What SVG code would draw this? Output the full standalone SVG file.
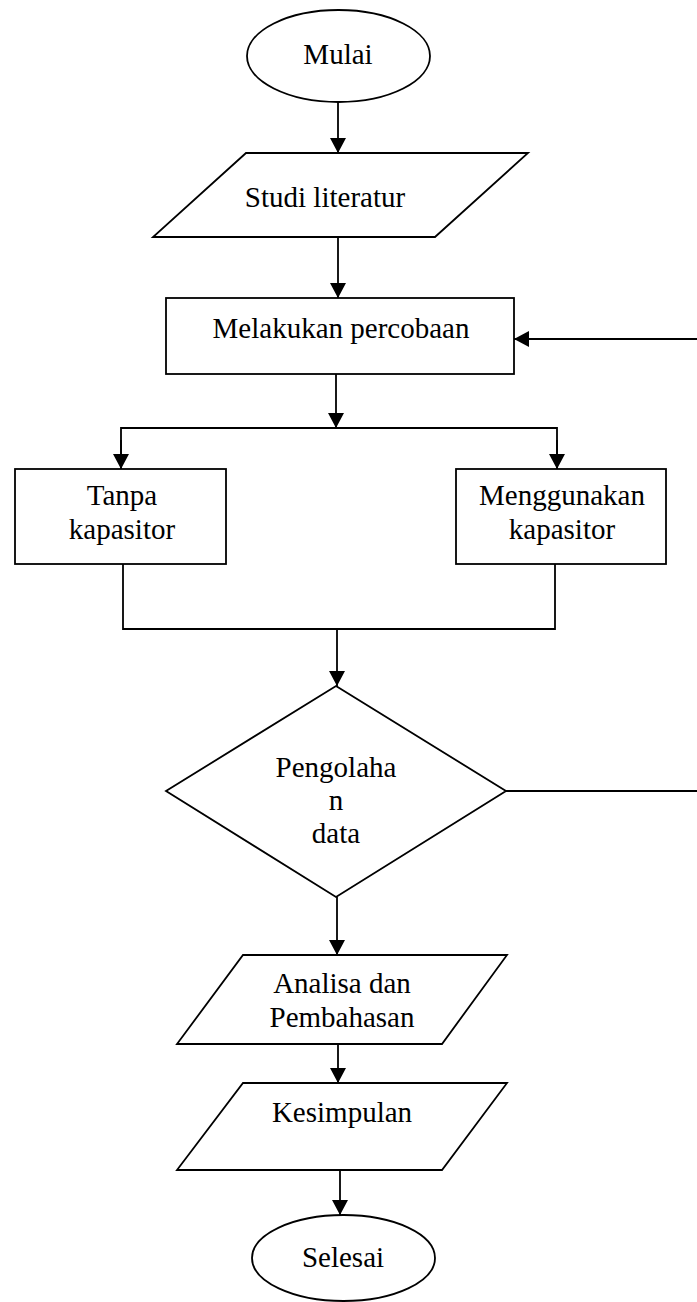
<svg xmlns="http://www.w3.org/2000/svg" width="697" height="1302" viewBox="0 0 697 1302">
<style>
.s{fill:#fff;stroke:#000;stroke-width:1.8}
.c{fill:none;stroke:#000;stroke-width:1.8}
.t{font-family:"Liberation Serif","Times New Roman",serif;font-size:29px;fill:#000;text-anchor:middle}
</style>
<defs>
<marker id="a" markerUnits="userSpaceOnUse" markerWidth="15" markerHeight="16" viewBox="0 0 15 16" refX="15" refY="8" orient="auto">
<path d="M0,0 L15,8 L0,16 Z" fill="#000"/>
</marker>
</defs>
<rect width="697" height="1302" fill="#fff"/>
<g id="connectors">
<line class="c" x1="338" y1="102" x2="338" y2="153" marker-end="url(#a)"/>
<line class="c" x1="338" y1="237" x2="338" y2="298" marker-end="url(#a)"/>
<line class="c" x1="697" y1="339" x2="514" y2="339" marker-end="url(#a)"/>
<line class="c" x1="336" y1="374" x2="336" y2="428" marker-end="url(#a)"/>
<polyline class="c" points="121,469 121,428 557,428 557,469"/>
<line class="c" x1="121" y1="440" x2="121" y2="469" marker-end="url(#a)"/>
<line class="c" x1="557" y1="440" x2="557" y2="469" marker-end="url(#a)"/>
<polyline class="c" points="123,564 123,629 555,629 555,564"/>
<line class="c" x1="337" y1="629" x2="337" y2="686" marker-end="url(#a)"/>
<line class="c" x1="506" y1="791" x2="697" y2="791"/>
<line class="c" x1="337" y1="897" x2="337" y2="955" marker-end="url(#a)"/>
<line class="c" x1="338" y1="1044" x2="338" y2="1083" marker-end="url(#a)"/>
<line class="c" x1="340" y1="1170" x2="340" y2="1215" marker-end="url(#a)"/>
</g>
<g id="mulai">
<ellipse class="s" cx="338.5" cy="56" rx="91.5" ry="46"/>
<text class="t" x="338" y="64">Mulai</text>
</g>
<g id="studi">
<polygon class="s" points="246,153 528,153 435,237 153,237"/>
<text class="t" x="325" y="207">Studi literatur</text>
</g>
<g id="percobaan">
<rect class="s" x="166" y="298" width="348" height="76"/>
<text class="t" x="341" y="338">Melakukan percobaan</text>
</g>
<g id="tanpa">
<rect class="s" x="15" y="469" width="211" height="95"/>
<text class="t" x="122" y="505">Tanpa</text>
<text class="t" x="122" y="539">kapasitor</text>
</g>
<g id="menggunakan">
<rect class="s" x="456" y="469" width="210" height="95"/>
<text class="t" x="562" y="505">Menggunakan</text>
<text class="t" x="562" y="539">kapasitor</text>
</g>
<g id="pengolahan">
<polygon class="s" points="336,686 506,791 336,897 166,791"/>
<text class="t" x="336" y="777">Pengolaha</text>
<text class="t" x="336" y="810">n</text>
<text class="t" x="336" y="843">data</text>
</g>
<g id="analisa">
<polygon class="s" points="243,955 507,955 442,1044 177,1044"/>
<text class="t" x="342" y="993">Analisa dan</text>
<text class="t" x="342" y="1027">Pembahasan</text>
</g>
<g id="kesimpulan">
<polygon class="s" points="243,1083 507,1083 442,1170 177,1170"/>
<text class="t" x="342" y="1122">Kesimpulan</text>
</g>
<g id="selesai">
<ellipse class="s" cx="343.5" cy="1258" rx="91.5" ry="43"/>
<text class="t" x="343" y="1267">Selesai</text>
</g>
</svg>
